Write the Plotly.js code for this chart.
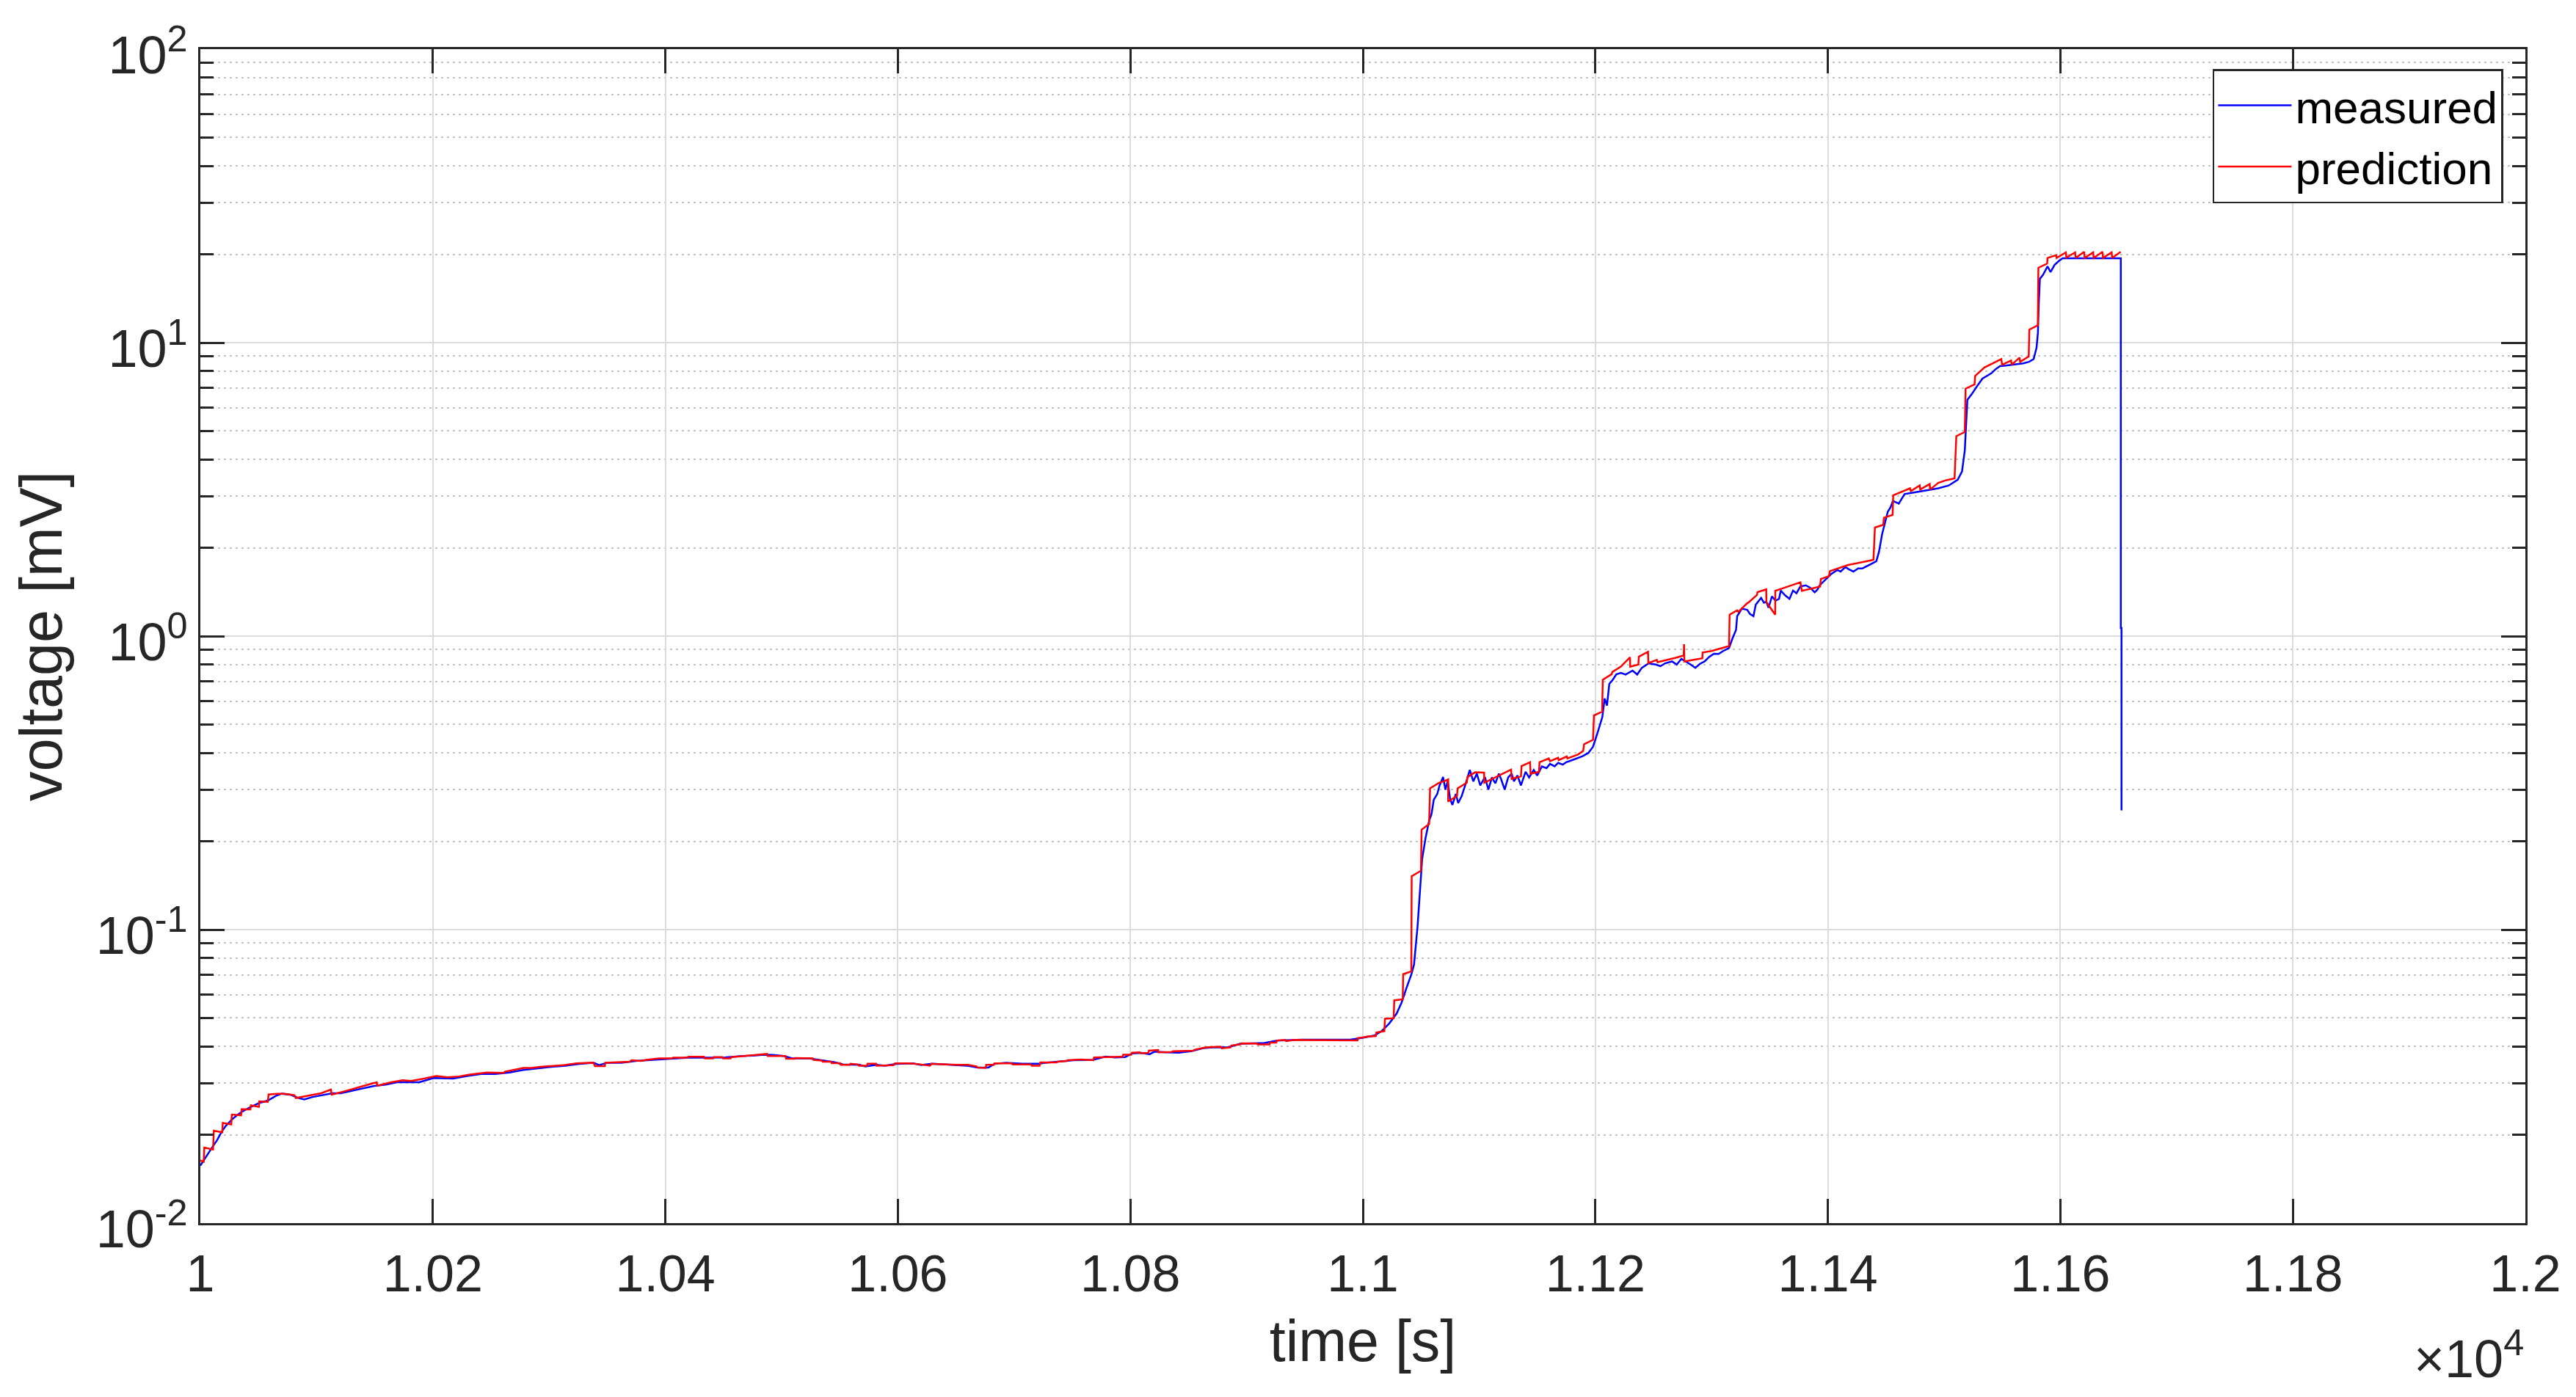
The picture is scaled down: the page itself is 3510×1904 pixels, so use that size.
<!DOCTYPE html>
<html>
<head>
<meta charset="utf-8">
<script src="https://cdn.plot.ly/plotly-3.0.1.min.js"></script>
<style>
  html, body { margin: 0; padding: 0; background: #ffffff; }
  #chart { width: 3510px; height: 1904px; }
</style>
</head>
<body>
<div id="chart"></div>
<script>
// ---- measured voltage (blue) ----
const measuredTime = [
  10000, 10004.8, 10009.7, 10014.5, 10018.1, 10021.7, 10026.6, 10031.4, 10036.2, 10043.5,
  10050.7, 10058, 10065.2, 10070, 10077.3, 10084.6, 10089.4, 10096.6, 10103.9, 10113.6,
  10120.8, 10130.5, 10140, 10149.8, 10159.5, 10169.1, 10178.8, 10188.4, 10200.5, 10207.8,
  10217.4, 10229.5, 10241.6, 10253.7, 10265.8, 10277.8, 10289.9, 10302, 10314, 10326,
  10338, 10343, 10350, 10362, 10374.5, 10393, 10408, 10422, 10437, 10451,
  10466, 10475.5, 10485, 10492.4, 10502, 10509, 10523.8, 10533.4, 10545.5, 10552.8,
  10567, 10572, 10581.7, 10589, 10598.7, 10613, 10620, 10630, 10644.6, 10659,
  10668.7, 10678, 10683, 10693, 10707.4, 10722, 10727, 10741, 10751, 10768,
  10778.6, 10787, 10795.5, 10801.8, 10810, 10816.5, 10820.7, 10831, 10841.8, 10852,
  10862.8, 10873, 10883.9, 10894.4, 10904.9, 10915.4, 10926, 10936.5, 10947, 10968,
  10989, 10999.6, 11010, 11016.4, 11022.7, 11029, 11033.3, 11037.5, 11041.7, 11044,
  11047, 11049, 11051, 11054, 11057, 11059, 11061, 11064, 11066, 11069,
  11071, 11073, 11075, 11077, 11080, 11082, 11085, 11088, 11090, 11092,
  11095, 11098, 11101, 11105, 11108, 11111, 11114, 11117, 11119, 11122,
  11125, 11128, 11130, 11133, 11136, 11140, 11143, 11147, 11150, 11154,
  11158, 11161, 11165, 11168, 11172, 11175, 11180, 11185, 11189, 11194,
  11198, 11202, 11206, 11208, 11210, 11212, 11215, 11218, 11222, 11226,
  11232, 11236, 11240, 11246, 11252, 11256, 11260, 11266, 11270, 11274,
  11278, 11282, 11286, 11290, 11294, 11298, 11302, 11306, 11310, 11315,
  11318, 11321, 11322, 11326, 11330.6, 11333, 11336, 11338, 11340, 11342.6,
  11345, 11347, 11349, 11351.9, 11355, 11358, 11359.5, 11363, 11367, 11370,
  11373, 11376.3, 11381, 11385, 11388.6, 11391, 11393, 11398, 11403, 11408,
  11411, 11415, 11418, 11422, 11426, 11429.6, 11433, 11437, 11441.7, 11444,
  11446.6, 11449, 11451.5, 11454, 11456, 11461, 11466, 11473, 11480, 11487,
  11495, 11504, 11511.7, 11515.4, 11517.8, 11519, 11520, 11523.8, 11526, 11528.6,
  11533, 11537, 11540.8, 11544, 11548, 11553, 11558, 11563, 11568, 11573,
  11577, 11579.5, 11580.7, 11581.4, 11582.4, 11585, 11589, 11591.5, 11595, 11598.8,
  11602, 11652, 11652, 11652.6, 11652.6
];
const measuredVoltage = [
  0.0157, 0.01683, 0.0180, 0.0192, 0.0204, 0.0214, 0.02244, 0.0233, 0.0240, 0.0249,
  0.02566, 0.02615, 0.02717, 0.0276, 0.0274, 0.02667, 0.0264, 0.0269, 0.0272, 0.0277,
  0.0277, 0.02825, 0.02868, 0.02935, 0.02963, 0.0302, 0.0302, 0.0302, 0.0312, 0.0312,
  0.0311, 0.0317, 0.0322, 0.0322, 0.0326, 0.03324, 0.03369, 0.03408, 0.03436, 0.03487,
  0.0352, 0.03453, 0.0352, 0.0352, 0.0357, 0.0361, 0.0364, 0.0367, 0.0366, 0.0367,
  0.0371, 0.0372, 0.0375, 0.0374, 0.0371, 0.0364, 0.0364, 0.0359, 0.03533, 0.03473,
  0.0346, 0.0342, 0.0346, 0.0344, 0.03487, 0.0350, 0.0346, 0.0349, 0.0347, 0.0344,
  0.03388, 0.0339, 0.0349, 0.0352, 0.0349, 0.0349, 0.0352, 0.03556, 0.0359, 0.0360,
  0.03693, 0.0367, 0.0368, 0.03786, 0.0380, 0.0376, 0.03838, 0.0382, 0.0381, 0.0385,
  0.03945, 0.03974, 0.0397, 0.04083, 0.04105, 0.0411, 0.04186, 0.04207, 0.0422, 0.0422,
  0.0422, 0.0428, 0.0436, 0.0452, 0.0479, 0.0517, 0.0564, 0.0632, 0.0703, 0.076,
  0.102, 0.133, 0.174, 0.206, 0.235, 0.247, 0.277, 0.29, 0.31, 0.331,
  0.30, 0.32, 0.28, 0.266, 0.29, 0.27, 0.285, 0.31, 0.33, 0.35,
  0.32, 0.34, 0.31, 0.331, 0.30, 0.33, 0.315, 0.34, 0.325, 0.30,
  0.33, 0.34, 0.32, 0.335, 0.31, 0.345, 0.33, 0.35, 0.335, 0.36,
  0.355, 0.367, 0.36, 0.37, 0.365, 0.372, 0.378, 0.385, 0.39, 0.40,
  0.42, 0.47, 0.53, 0.613, 0.58, 0.688, 0.71, 0.741, 0.75, 0.74,
  0.763, 0.74, 0.78, 0.808, 0.80, 0.79, 0.808, 0.82, 0.80, 0.837,
  0.82, 0.80, 0.78, 0.805, 0.82, 0.85, 0.871, 0.87, 0.89, 0.912,
  0.983, 1.05, 1.17, 1.24, 1.23, 1.19, 1.17, 1.28, 1.31, 1.35,
  1.30, 1.31, 1.25, 1.366, 1.32, 1.34, 1.43, 1.38, 1.34, 1.43,
  1.40, 1.476, 1.49, 1.46, 1.41, 1.44, 1.49, 1.557, 1.63, 1.68,
  1.66, 1.72, 1.69, 1.66, 1.70, 1.70, 1.73, 1.76, 1.80, 1.94,
  2.22, 2.43, 2.65, 2.75, 2.89, 2.83, 3.05, 3.08, 3.12, 3.15,
  3.19, 3.26, 3.41, 3.64, 4.3, 5.59, 6.38, 6.68, 6.9, 7.13,
  7.54, 7.7, 7.87, 8.1, 8.32, 8.35, 8.4, 8.45, 8.5, 8.6,
  8.79, 9.6, 10.8, 13.5, 16.5, 17.0, 18.2, 17.4, 18.4, 19.0,
  19.4, 19.4, 1.066, 1.066, 0.255
];

// ---- prediction (red) ----
const predictionTime = [
  10000, 10002.9, 10003.4, 10010.9, 10011.6, 10018.8, 10019.3, 10026.6, 10027.1, 10035,
  10035.5, 10043, 10043.5, 10050.3, 10050.7, 10058, 10058.7, 10066.4, 10072.5, 10080.9,
  10082.1, 10087, 10096.6, 10103.9, 10112.3, 10113, 10125.6, 10136.5, 10142.5, 10151.7,
  10152.2, 10164.3, 10174, 10181.2, 10190.9, 10199.3, 10203, 10212.6, 10222.3, 10232,
  10241.6, 10246.4, 10260.9, 10262, 10277.8, 10285, 10292.3, 10302, 10311.7, 10323.7,
  10338.2, 10339.4, 10347.9, 10348.4, 10369.6, 10370.9, 10378.8, 10383.6, 10394.5, 10405.4,
  10406.6, 10418.7, 10419.9, 10433.2, 10433.9, 10441.1, 10441.6, 10448.9, 10449.6, 10456.1,
  10456.6, 10464.6, 10471.8, 10483.9, 10487.5, 10488, 10503.2, 10503.9, 10511.2, 10511.7,
  10526.7, 10527.4, 10534.6, 10535.4, 10542.6, 10543.1, 10550.3, 10550.8, 10558.8, 10559.3,
  10566, 10566.5, 10573.3, 10574, 10581.3, 10581.7, 10596.2, 10597.5, 10610.7, 10620.4,
  10627.6, 10628.9, 10639.7, 10650.6, 10660.3, 10667.5, 10668.7, 10675.5, 10676, 10682.7,
  10683.2, 10697.7, 10699, 10714.6, 10715.1, 10721.9, 10722.6, 10736.4, 10737.6, 10745.5,
  10746, 10757.6, 10768.1, 10768.8, 10793.4, 10793.8, 10800.7, 10801.4, 10808.1, 10809.2,
  10815.5, 10815.9, 10823.9, 10824.3, 10835.5, 10836.5, 10854.4, 10855.5, 10864.9, 10877.5,
  10878.6, 10886, 10887, 10894.4, 10895.4, 10909.1, 10909.5, 10919.6, 10920.3, 10925.5,
  10926, 10933.3, 10933.9, 10940.7, 10941.7, 10995.4, 10995.8, 11002.8, 11003.4, 11011.2,
  11011.6, 11018.5, 11019, 11026.5, 11027, 11034.3, 11034.7, 11041.7, 11042, 11050,
  11050.5, 11057, 11057.8, 11065.5, 11069.7, 11073.4, 11073.4, 11081, 11081.5, 11089.4,
  11090, 11096.5, 11104.3, 11104.5, 11127.5, 11128, 11136, 11136.5, 11143.8, 11144.3,
  11151.5, 11152, 11159.9, 11161, 11168, 11168.5, 11175.4, 11176, 11185, 11189.5,
  11190.3, 11198, 11198.8, 11205.8, 11206.4, 11214, 11214.6, 11221.9, 11229.8, 11230,
  11237, 11237.4, 11245.3, 11245.6, 11252.9, 11253.5, 11262, 11269.8, 11276, 11276.3,
  11276.6, 11292, 11292.3, 11300, 11315, 11315.5, 11322, 11323, 11330.5, 11331.5,
  11339, 11339.5, 11347, 11347.1, 11354.7, 11354.8, 11362, 11376.4, 11377.6, 11393.3,
  11394, 11401, 11401.8, 11417.5, 11439.2, 11440.5, 11447.7, 11448.2, 11455.7, 11456.2,
  11470.7, 11471.4, 11479, 11479.5, 11487.6, 11488, 11495, 11502, 11509, 11510.5,
  11517.8, 11518.5, 11526.2, 11526.7, 11534.7, 11549.2, 11549.9, 11557.6, 11558.1, 11564.9,
  11565.4, 11572.8, 11573.3, 11580.6, 11581.1, 11588.6, 11589, 11596.3, 11596.8, 11604.7,
  11605.2, 11612.7, 11613.2, 11620.4, 11620.9, 11628.2, 11628.7, 11636.2, 11636.7, 11644.1,
  11644.6, 11651.9
];
const predictionVoltage = [
  0.01634, 0.01619, 0.01810, 0.01782, 0.02065, 0.02038, 0.02193, 0.02168, 0.02344, 0.02330,
  0.02445, 0.02440, 0.02518, 0.0249, 0.0260, 0.0259, 0.02744, 0.0276, 0.0276, 0.0273,
  0.02667, 0.0269, 0.0273, 0.0277, 0.0285, 0.0274, 0.02825, 0.02906, 0.0295, 0.0302,
  0.0294, 0.0302, 0.03068, 0.0305, 0.0310, 0.0314, 0.0317, 0.0314, 0.0316, 0.0321,
  0.0325, 0.0326, 0.0325, 0.0328, 0.0338, 0.0338, 0.0341, 0.0343, 0.0345, 0.0350,
  0.0352, 0.0343, 0.0343, 0.0352, 0.0355, 0.0359, 0.0357, 0.0360, 0.0364, 0.0364,
  0.0366, 0.0366, 0.0369, 0.0369, 0.0364, 0.0364, 0.0368, 0.0368, 0.0364, 0.0364,
  0.0368, 0.0370, 0.0372, 0.0375, 0.0377, 0.0371, 0.0371, 0.0363, 0.0363, 0.0365,
  0.0364, 0.0360, 0.0358, 0.0355, 0.0355, 0.0351, 0.0351, 0.0346, 0.0346, 0.0349,
  0.0347, 0.0344, 0.0344, 0.0349, 0.0349, 0.0344, 0.0345, 0.0350, 0.0350, 0.0347,
  0.0344, 0.0349, 0.0347, 0.0346, 0.0346, 0.0342, 0.0339, 0.0338, 0.0346, 0.0346,
  0.0350, 0.0350, 0.0347, 0.0347, 0.0344, 0.0344, 0.0353, 0.0353, 0.0355, 0.0357,
  0.0359, 0.0361, 0.0359, 0.0367, 0.0369, 0.0375, 0.0375, 0.0381, 0.0382, 0.0379,
  0.0380, 0.0387, 0.0389, 0.0382, 0.0383, 0.0385, 0.0387, 0.0390, 0.0397, 0.0399,
  0.0394, 0.0397, 0.0403, 0.0406, 0.0410, 0.0409, 0.0406, 0.0406, 0.0412, 0.0412,
  0.0419, 0.0421, 0.0417, 0.0419, 0.0421, 0.0419, 0.0427, 0.0431, 0.0432, 0.0434,
  0.0446, 0.0451, 0.0497, 0.0499, 0.0574, 0.0579, 0.0705, 0.0721, 0.152, 0.1587,
  0.219, 0.229, 0.303, 0.3165, 0.320, 0.325, 0.273, 0.2856, 0.303, 0.3165,
  0.331, 0.3436, 0.343, 0.3165, 0.351, 0.326, 0.333, 0.361, 0.372, 0.340,
  0.345, 0.372, 0.383, 0.375, 0.385, 0.378, 0.389, 0.383, 0.395, 0.406,
  0.428, 0.4435, 0.537, 0.553, 0.71, 0.742, 0.755, 0.787, 0.847, 0.787,
  0.80, 0.851, 0.885, 0.81, 0.83, 0.815, 0.83, 0.845, 0.86, 0.938,
  0.82, 0.84, 0.88, 0.89, 0.925, 1.184, 1.224, 1.21, 1.293, 1.30,
  1.381, 1.412, 1.443, 1.307, 1.184, 1.427, 1.459, 1.525, 1.427, 1.476,
  1.566, 1.601, 1.666, 1.748, 1.819, 2.344, 2.396, 2.532, 2.588, 3.02,
  3.19, 3.12, 3.26, 3.16, 3.30, 3.16, 3.33, 3.40, 3.45, 4.80,
  4.96, 6.97, 7.21, 7.70, 8.23, 8.79, 8.41, 8.69, 8.41, 8.89,
  8.60, 8.98, 11.08, 11.45, 17.99, 18.59, 19.43, 19.86, 19.43, 20.30,
  19.5, 20.3, 19.43, 20.4, 19.43, 20.3, 19.43, 20.4, 19.43, 20.3,
  19.43, 20.4
];

// ---- axis ticks ----
const xTickVals = [10000, 10200, 10400, 10600, 10800, 11000, 11200, 11400, 11600, 11800, 12000];
const xTickText = ["1", "1.02", "1.04", "1.06", "1.08", "1.1", "1.12", "1.14", "1.16", "1.18", "1.2"];
const yTickVals = [0.01, 0.1, 1, 10, 100];
const yTickText = ["10<sup>-2</sup>", "10<sup>-1</sup>", "10<sup>0</sup>", "10<sup>1</sup>", "10<sup>2</sup>"];
const yMinorTickVals = [
  0.02, 0.03, 0.04, 0.05, 0.06, 0.07, 0.08, 0.09,
  0.2, 0.3, 0.4, 0.5, 0.6, 0.7, 0.8, 0.9,
  2, 3, 4, 5, 6, 7, 8, 9,
  20, 30, 40, 50, 60, 70, 80, 90
];

const FONT = '"Liberation Sans", Arial, Helvetica, sans-serif';
const AX = '#262626';

const traces = [
  {
    type: 'scatter', mode: 'lines', name: 'measured',
    x: measuredTime, y: measuredVoltage,
    line: { color: '#0000ff', width: 2.5 }
  },
  {
    type: 'scatter', mode: 'lines', name: 'prediction',
    x: predictionTime, y: predictionVoltage,
    line: { color: '#ff0000', width: 2.5 }
  }
];

const layout = {
  width: 3510, height: 1904,
  paper_bgcolor: '#ffffff', plot_bgcolor: '#ffffff',
  margin: { l: 273, r: 69, t: 67, b: 237, pad: 0 },
  font: { family: FONT, color: AX, size: 70 },
  showlegend: true,
  legend: {
    x: 0.9905, xanchor: 'right', y: 0.983, yanchor: 'top',
    bgcolor: '#ffffff', bordercolor: AX, borderwidth: 2.5,
    font: { family: FONT, size: 62, color: '#000000' },
    itemwidth: 100, tracegroupgap: 0
  },
  xaxis: {
    type: 'linear', range: [10000, 12000],
    tickmode: 'array', tickvals: xTickVals, ticktext: xTickText,
    ticks: 'inside', ticklen: 33, tickwidth: 3, tickcolor: AX,
    showline: true, linecolor: AX, linewidth: 3, mirror: 'ticks',
    showgrid: true, gridcolor: '#dcdcdc', gridwidth: 2,
    zeroline: false,
    tickfont: { family: FONT, size: 70, color: AX },
    ticklabelstandoff: 6,
    title: { text: 'time [s]', font: { family: FONT, size: 79, color: AX }, standoff: 26 },
    automargin: false
  },
  yaxis: {
    type: 'log', range: [-2, 2],
    tickmode: 'array', tickvals: yTickVals, ticktext: yTickText,
    ticks: 'inside', ticklen: 33, tickwidth: 3, tickcolor: AX,
    showline: true, linecolor: AX, linewidth: 3, mirror: 'ticks',
    showgrid: true, gridcolor: '#dcdcdc', gridwidth: 2,
    zeroline: false,
    tickfont: { family: FONT, size: 72, color: AX },
    ticklabelstandoff: 0,
    ticklabelshift: 8,
    minor: {
      tickmode: 'array', tickvals: yMinorTickVals,
      ticks: 'inside', ticklen: 18, tickwidth: 3, tickcolor: AX,
      showgrid: true, gridcolor: '#c4c4c4', gridwidth: 2, griddash: '3px,5px'
    },
    title: { text: 'voltage [mV]', font: { family: FONT, size: 81, color: AX }, standoff: 20 },
    automargin: false
  },
  annotations: [
    {
      xref: 'paper', yref: 'paper', x: 1, y: -0.112,
      xanchor: 'right', yanchor: 'middle',
      text: '×10<sup>4</sup>', showarrow: false,
      font: { family: FONT, size: 72, color: AX }
    }
  ]
};

Plotly.newPlot('chart', traces, layout, { displayModeBar: false, staticPlot: true });
</script>
</body>
</html>
